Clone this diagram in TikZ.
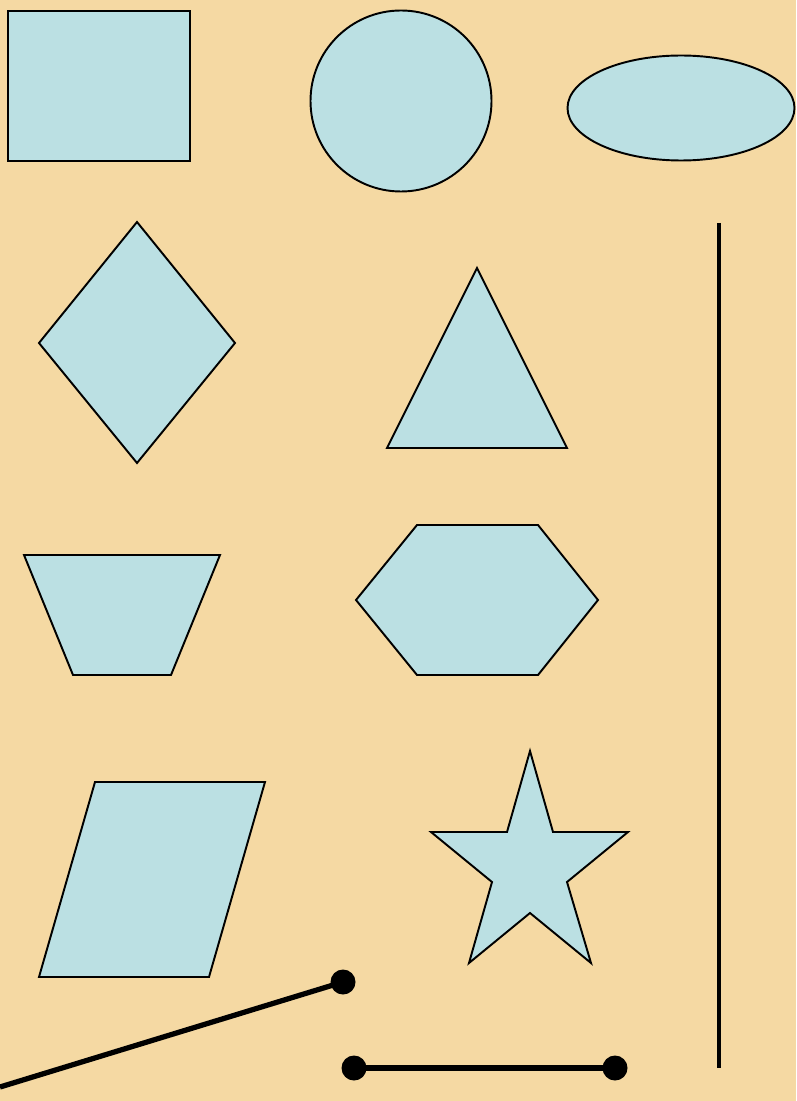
\documentclass[tikz,border=0pt]{standalone}
\usepackage{tikz}
\definecolor{parch}{HTML}{F5D9A3}
\definecolor{paleblue}{HTML}{BBE0E3}
\tikzset{shapefill/.style={draw=black,fill=paleblue,line width=1.1pt,line join=miter},
  blackline/.style={line width=3pt},
  dotend/.style={fill=black}}
\begin{document}
\begin{tikzpicture}[x=0.02cm,y=-0.02cm]
                \fill[parch] (0,0) rectangle (796,1101);
                \useasboundingbox (0,0) rectangle (796,1101);
                \draw[shapefill] (8,11) rectangle (190,161);
                \draw[shapefill] (401,101) circle[radius=90.5];
                \draw[shapefill] (681,108) ellipse[x radius=113.5,y radius=52.5];
                \draw[shapefill] (137,222) -- (235,343) -- (137,463) -- (39,343) -- cycle;
                \draw[shapefill] (477,268) -- (567,448) -- (387,448) -- cycle;
                \draw[shapefill] (24,555) -- (220,555) -- (171,675) -- (73,675) -- cycle;
                \draw[shapefill] (417,525) -- (538,525) -- (598,600) -- (538,675) -- (417,675) -- (356,600) -- cycle;
                \draw[shapefill] (95,782) -- (265,782) -- (209,977) -- (39,977) -- cycle;
                \draw[shapefill] (530,751) -- (553,832) -- (628,832) -- (567,882) -- (591,963) -- (530,913)
                    -- (469,963) -- (492,882) -- (431,832) -- (507,832) -- cycle;
                \draw[line width=2.4pt] (719,223) -- (719,1068);
                \draw[blackline] (0,1087) -- (343,982);
                \fill[dotend] (343,982) circle[radius=12.5];
                \draw[blackline] (354,1068) -- (615,1068);
                \fill[dotend] (354,1068) circle[radius=12.5];
                \fill[dotend] (615,1068) circle[radius=12.5];
            \end{tikzpicture}
\end{document}
